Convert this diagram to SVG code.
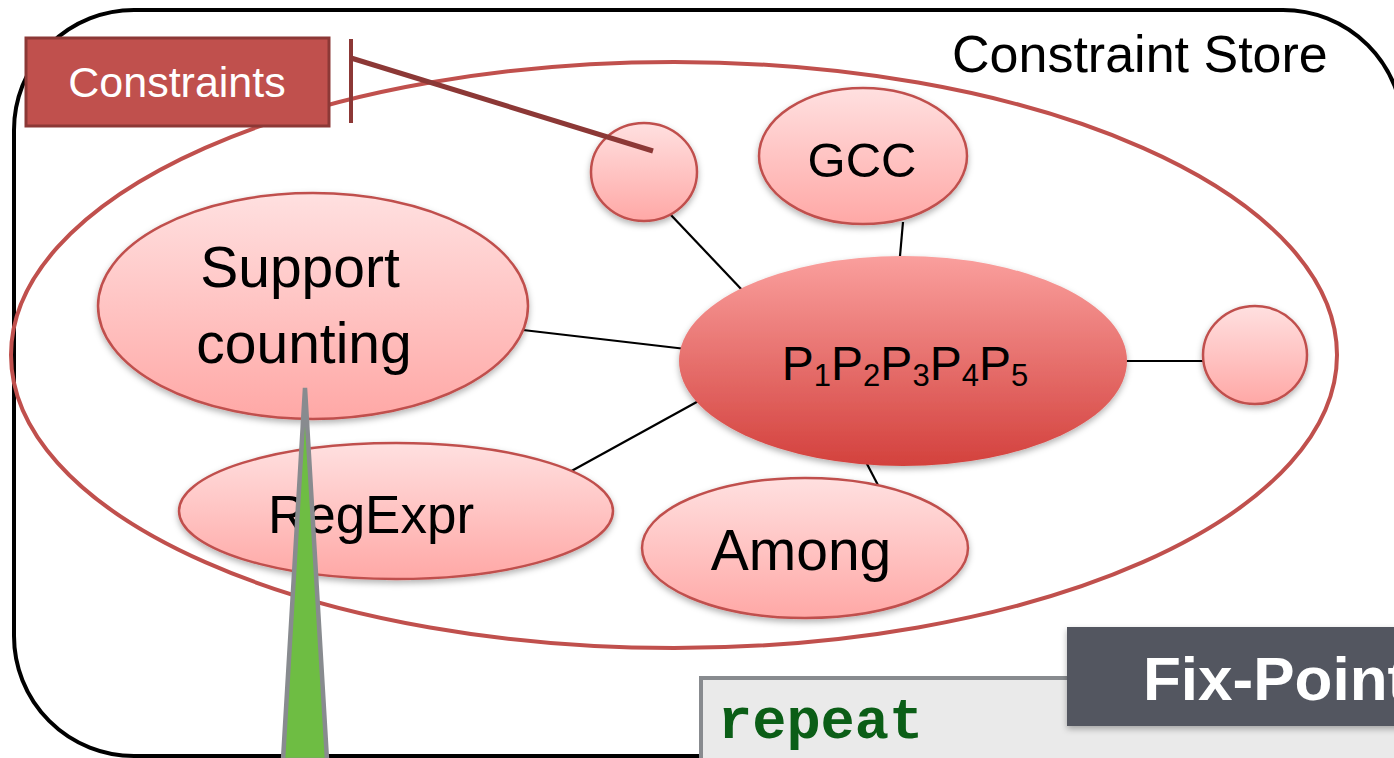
<svg xmlns="http://www.w3.org/2000/svg" width="1394" height="758" viewBox="0 0 1394 758">
  <style>
    .lbl { font-family: "Liberation Sans", Arial, sans-serif; fill: #000; text-anchor: middle; }
    .light { fill: url(#lightGrad); stroke: #C0504D; stroke-width: 2.5; filter: url(#shadow); }
    .conn { stroke: #000; stroke-width: 2.2; fill: none; }
  </style>
  <defs>
    <linearGradient id="lightGrad" x1="0" y1="0" x2="0" y2="1">
      <stop offset="0" stop-color="#FFE0E0"/>
      <stop offset="1" stop-color="#FFA8A6"/>
    </linearGradient>
    <linearGradient id="darkGrad" x1="0" y1="0" x2="0" y2="1">
      <stop offset="0" stop-color="#FA9F9D"/>
      <stop offset="1" stop-color="#D3413D"/>
    </linearGradient>
    <filter id="shadow" x="-10%" y="-10%" width="120%" height="130%">
      <feDropShadow dx="0" dy="3" stdDeviation="3" flood-color="#000" flood-opacity="0.3"/>
    </filter>
  </defs>

  <rect id="store-frame" x="14" y="10" width="1389" height="746" rx="120" ry="120" fill="#fff" stroke="#000" stroke-width="4"/>
  <text id="store-title" x="952" y="72" font-family="'Liberation Sans', Arial, sans-serif" font-size="52" fill="#000">Constraint Store</text>

  <ellipse id="store-ellipse" cx="674" cy="355" rx="663" ry="293" fill="none" stroke="#C0504D" stroke-width="4"/>

  <g id="connectors">
    <line class="conn" x1="670" y1="214" x2="743" y2="291"/>
    <line class="conn" x1="903" y1="222" x2="900" y2="256"/>
    <line class="conn" x1="523" y1="330" x2="686" y2="349"/>
    <line class="conn" x1="566" y1="474" x2="704" y2="398"/>
    <line class="conn" x1="866" y1="462" x2="880" y2="489"/>
    <line class="conn" x1="1125" y1="361" x2="1204" y2="361"/>
  </g>

  <g id="node-small-top">
    <ellipse class="light" cx="644" cy="172" rx="53" ry="49"/>
  </g>
  <g id="node-gcc">
    <ellipse class="light" cx="863" cy="156" rx="104" ry="68"/>
    <text class="lbl" x="862" y="177" font-size="49">GCC</text>
  </g>
  <g id="node-support">
    <ellipse class="light" cx="313" cy="306" rx="215" ry="113"/>
    <text class="lbl" x="300" y="287" font-size="57">Support</text>
    <text class="lbl" x="304" y="363" font-size="57">counting</text>
  </g>
  <g id="node-p">
    <ellipse cx="903" cy="361" rx="224" ry="105" fill="url(#darkGrad)" filter="url(#shadow)"/>
    <text class="lbl" x="905" y="380" font-size="48">P<tspan font-size="31" dy="6">1</tspan><tspan dy="-6">P</tspan><tspan font-size="31" dy="6">2</tspan><tspan dy="-6">P</tspan><tspan font-size="31" dy="6">3</tspan><tspan dy="-6">P</tspan><tspan font-size="31" dy="6">4</tspan><tspan dy="-6">P</tspan><tspan font-size="31" dy="6">5</tspan></text>
  </g>
  <g id="node-small-right">
    <ellipse class="light" cx="1255" cy="355" rx="52" ry="49"/>
  </g>
  <g id="node-regexpr">
    <ellipse class="light" cx="396" cy="511" rx="217" ry="68"/>
    <text class="lbl" x="371" y="533" font-size="53">RegExpr</text>
  </g>
  <g id="node-among">
    <ellipse class="light" cx="805" cy="548" rx="163" ry="70"/>
    <text class="lbl" x="801" y="570" font-size="57">Among</text>
  </g>

  <g id="constraints-label">
    <rect x="26" y="38" width="303" height="88" fill="#C0504D" stroke="#8C3836" stroke-width="3"/>
    <text x="177" y="97" font-family="'Liberation Sans', Arial, sans-serif" font-size="43" fill="#fff" text-anchor="middle">Constraints</text>
    <line x1="351" y1="39" x2="351" y2="123" stroke="#8C3836" stroke-width="4"/>
    <line x1="351" y1="58" x2="653" y2="151" stroke="#8C3836" stroke-width="5"/>
  </g>

  <polygon id="green-spike" points="305,388 283,760 327,760" fill="#6EBD43" stroke="#888B8F" stroke-width="4.5" stroke-linejoin="miter"/>

  <g id="code-box">
    <rect x="701" y="678" width="720" height="120" fill="#EAEAEA" stroke="#888B8F" stroke-width="4"/>
    <text x="718" y="738" font-family="'Liberation Mono', 'Courier New', monospace" font-weight="bold" font-size="57" fill="#0B5E17">repeat</text>
  </g>

  <g id="fixpoint-label">
    <rect x="1067" y="627" width="360" height="99" fill="#535760" filter="url(#shadow)"/>
    <text x="1143" y="700" font-family="'Liberation Sans', Arial, sans-serif" font-weight="bold" font-size="62" fill="#fff">Fix-Point</text>
  </g>
</svg>
